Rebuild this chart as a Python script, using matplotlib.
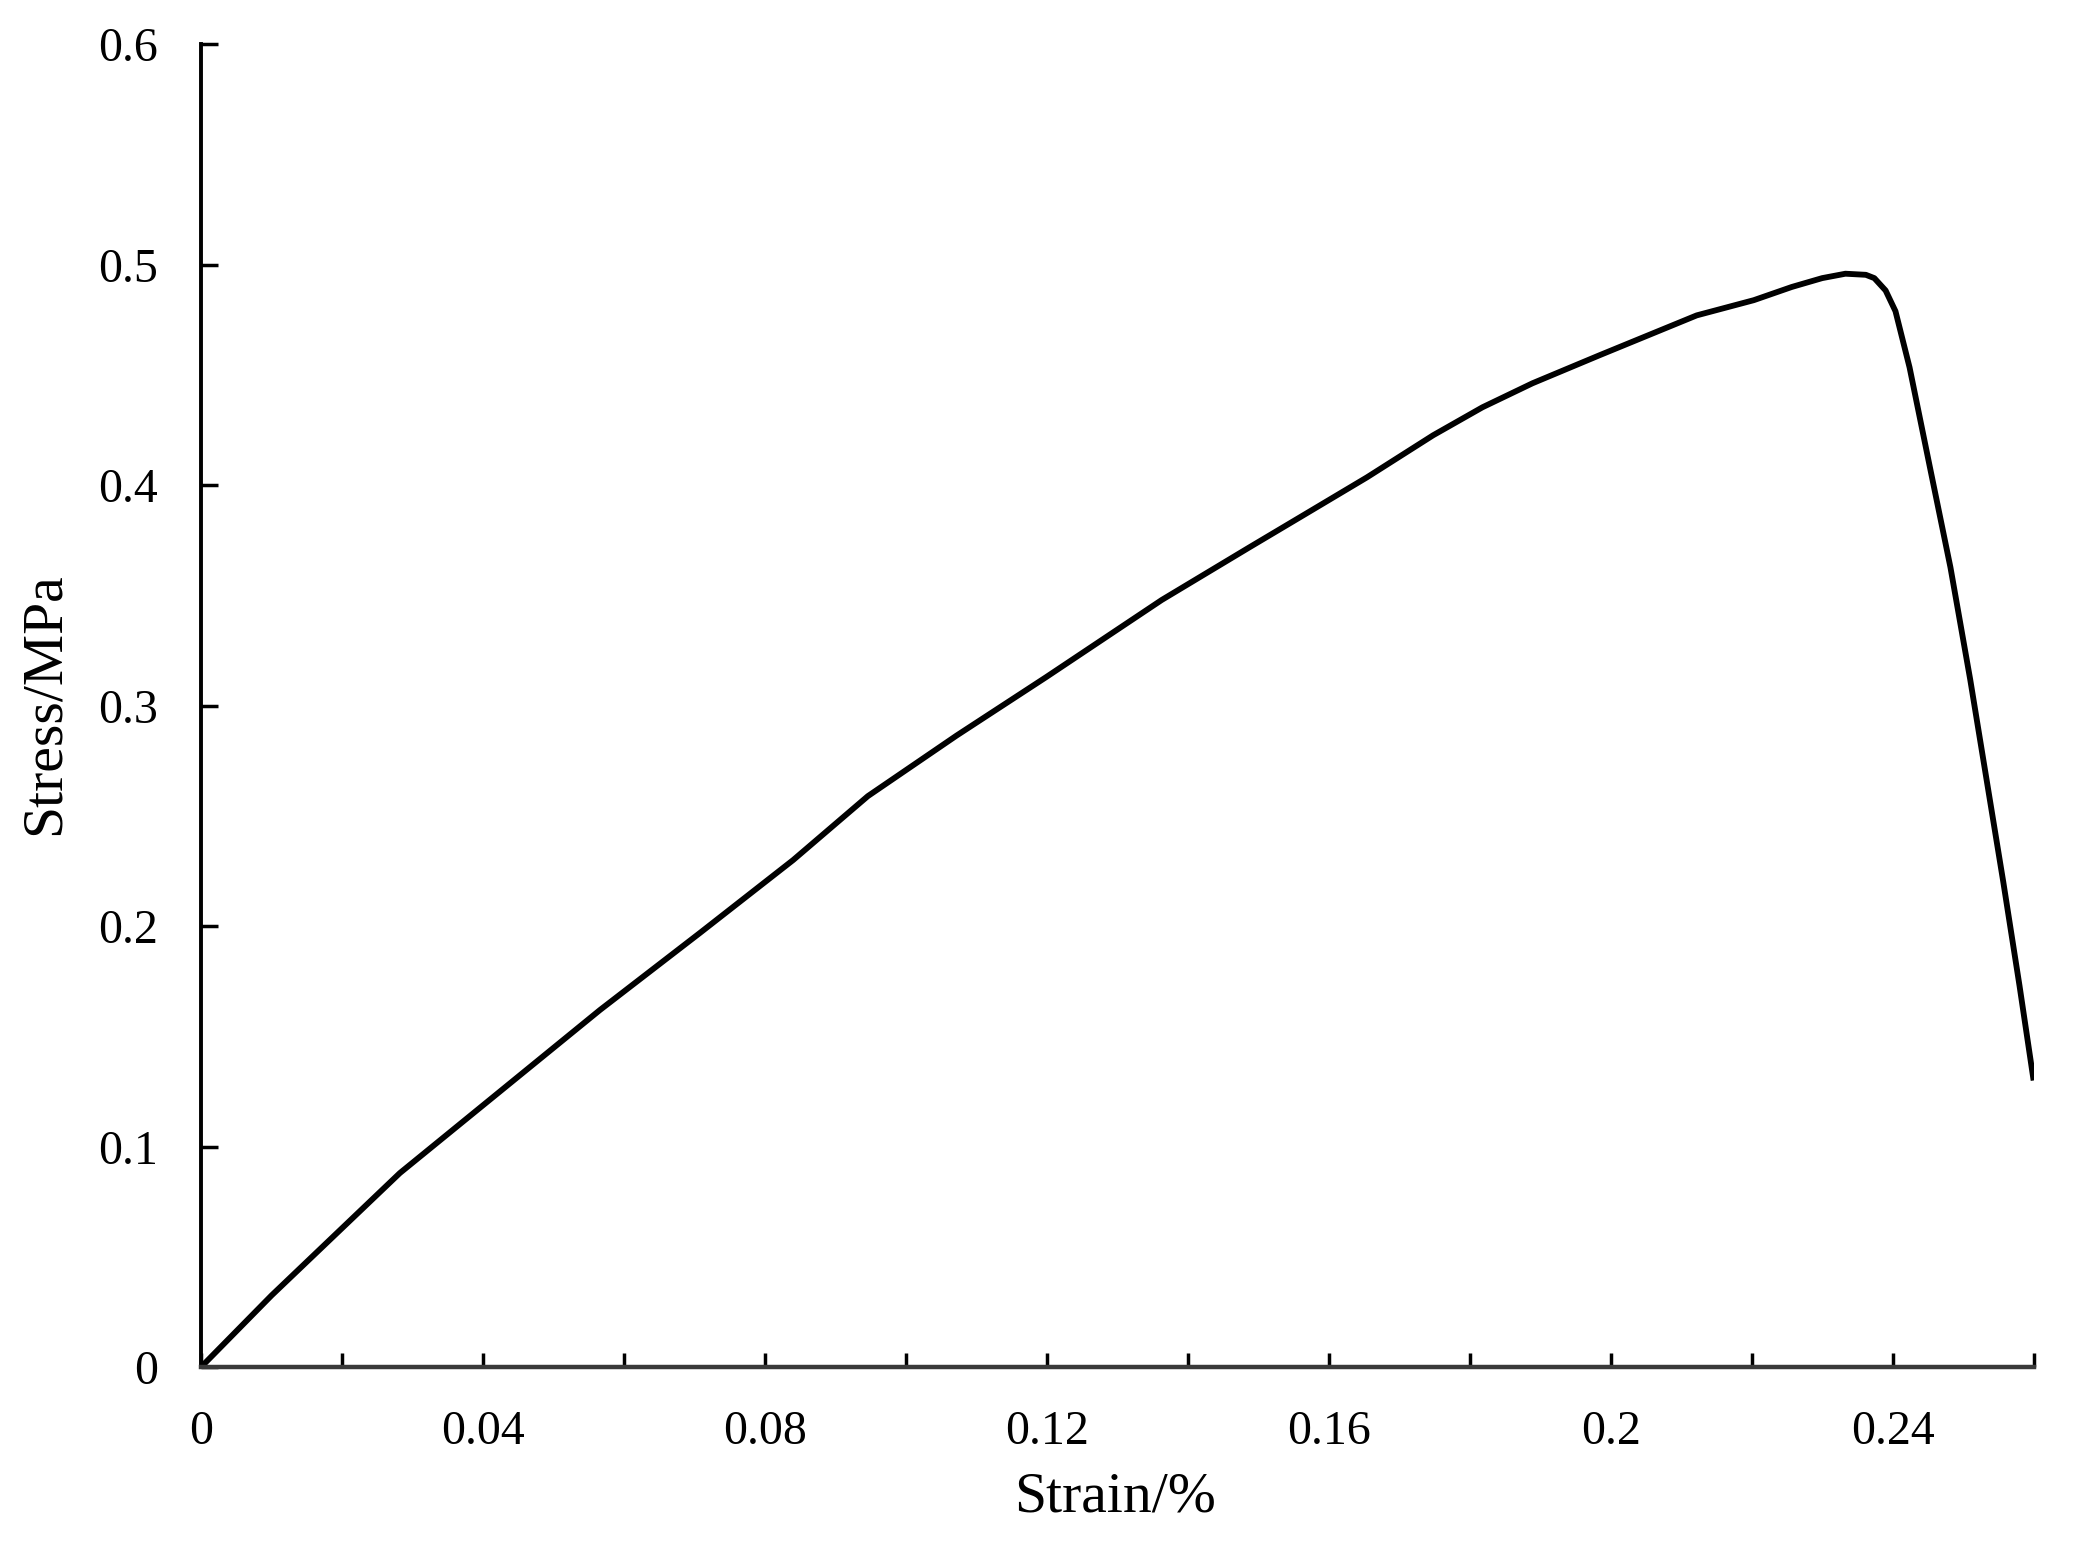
import numpy as np
import matplotlib.pyplot as plt

# Courbe contrainte-deformation
strain = [0, 0.01, 0.02, 0.0282, 0.0424, 0.0566, 0.0708, 0.084, 0.0946,
          0.1072, 0.1199, 0.1363, 0.1488, 0.1559, 0.1654, 0.1748, 0.1818,
          0.1889, 0.1984, 0.2122, 0.2203, 0.2257, 0.2300, 0.2333, 0.2362,
          0.2374, 0.239, 0.2404, 0.2424, 0.2453, 0.2482, 0.251, 0.2533,
          0.2557, 0.258, 0.26]
stress = [0, 0.0325, 0.063, 0.088, 0.125, 0.162, 0.197, 0.230, 0.259,
          0.2865, 0.313, 0.348, 0.372, 0.3855, 0.4036, 0.4227, 0.4354,
          0.4463, 0.459, 0.4771, 0.484, 0.490, 0.494, 0.496, 0.4955,
          0.494, 0.4884, 0.479, 0.4535, 0.408, 0.3628, 0.312, 0.267,
          0.220, 0.173, 0.130]

xticks = np.arange(0, 0.2601, 0.02)
xlabels = ["0", "", "0.04", "", "0.08", "", "0.12", "", "0.16", "", "0.2", "", "0.24", ""]
yticks = np.arange(0, 0.601, 0.1)
ylabels = ["0", "0.1", "0.2", "0.3", "0.4", "0.5", "0.6"]

plt.rcParams['font.family'] = ['Liberation Serif', 'DejaVu Serif']

fig = plt.figure(figsize=(20.73, 15.44), dpi=100)
ax = fig.add_axes([0.097, 0.1146, 0.884, 0.8566])

ax.plot(strain, stress, color='black', lw=4.2, solid_joinstyle='round', solid_capstyle='butt')

ax.set_xlim(0, 0.26)
ax.set_ylim(0, 0.6)
ax.set_xticks(xticks)
ax.set_xticklabels(xlabels)
ax.set_yticks(yticks)
ax.set_yticklabels(ylabels)

for s in ['top', 'right']:
    ax.spines[s].set_visible(False)
ax.spines['left'].set_linewidth(2.8)
ax.spines['bottom'].set_linewidth(3.2)
ax.spines['bottom'].set_color('#3a3a3a')

ax.tick_params(axis='x', direction='in', length=10, width=2.5, pad=31, labelsize=34.5)
ax.tick_params(axis='y', direction='in', length=12, width=2.5, pad=31, labelsize=34.5)

fig.text(1115 / 2073, 1 - 1498 / 1544, "Strain/%", ha='center', va='center', fontsize=41.5)
fig.text(45 / 2073, 1 - 704 / 1544, "Stress/MPa", ha='center', va='center', rotation=90, fontsize=41.5)

plt.savefig("out.png", dpi=100)
